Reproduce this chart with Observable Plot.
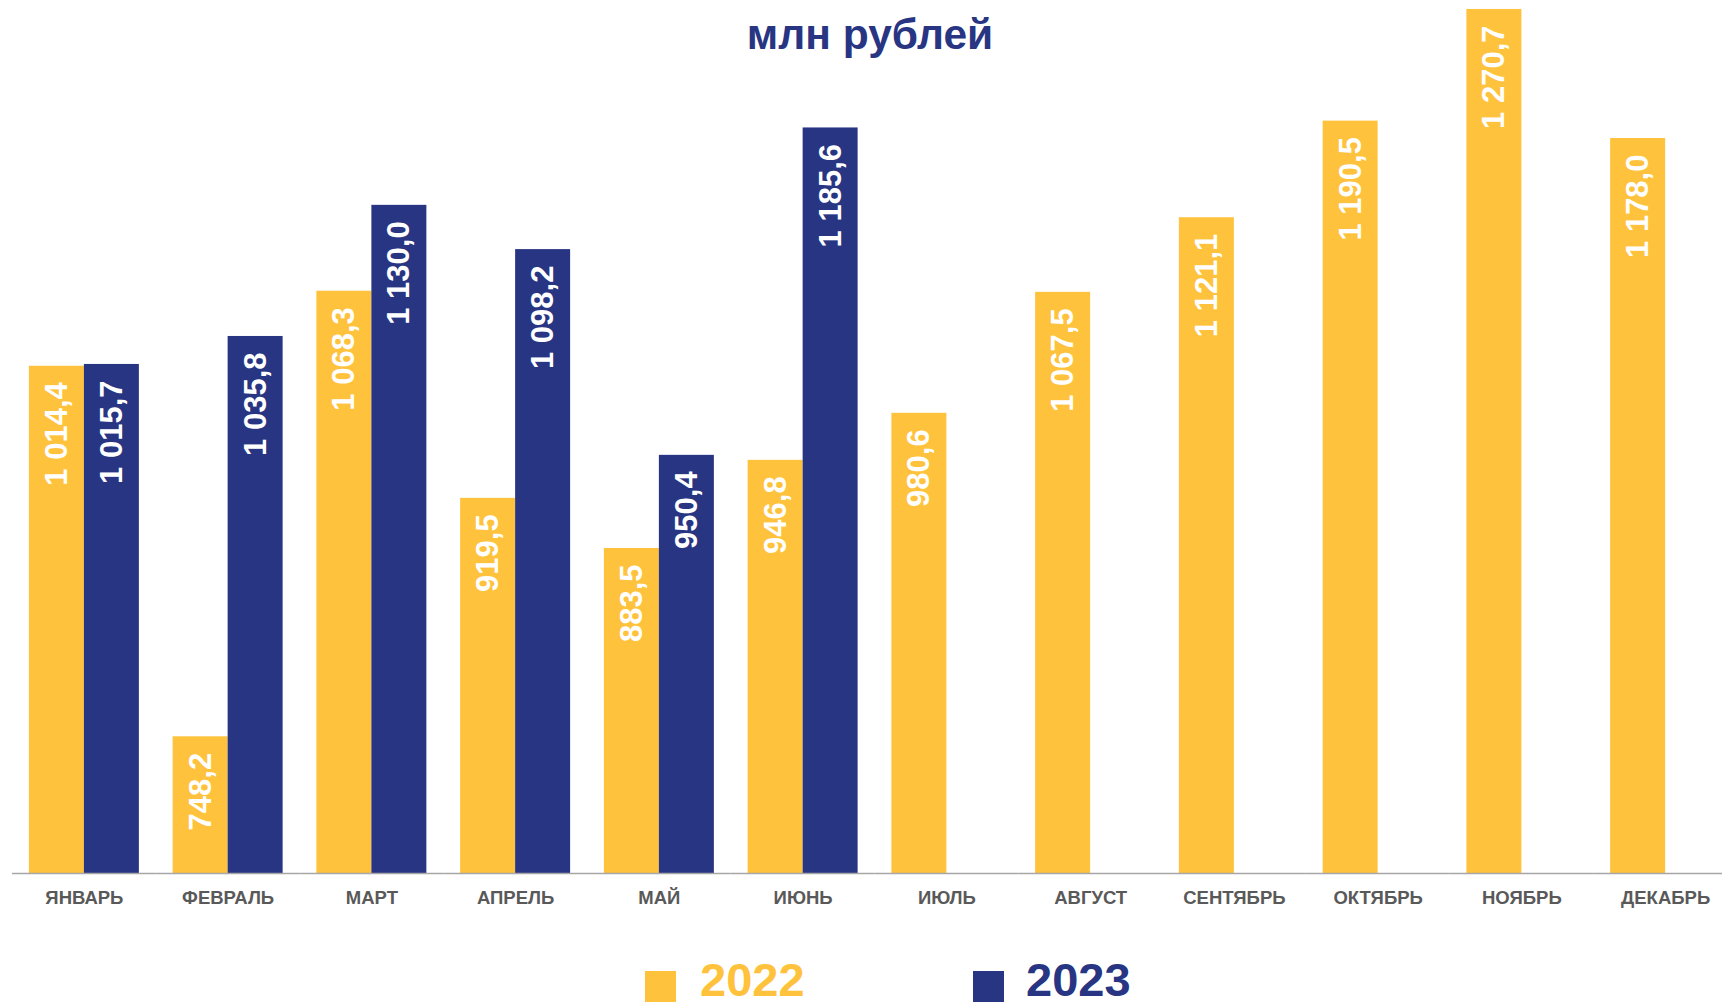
<!DOCTYPE html>
<html><head><meta charset="utf-8">
<script src="https://cdn.jsdelivr.net/npm/d3@7"></script>
<script src="https://cdn.jsdelivr.net/npm/@observablehq/plot@0.6"></script>
<style>
html,body{margin:0;padding:0;background:#fff;overflow:hidden;}
#wrap{position:relative;width:1722px;height:1006px;overflow:hidden;font-family:"Liberation Sans",Arial,sans-serif;}
#chart{position:absolute;left:0;top:0;}
#chart svg{max-width:none;}
#title{position:absolute;left:0;width:1740px;top:14px;text-align:center;font-size:42.5px;line-height:42px;font-weight:bold;color:#283582;}
.sw{position:absolute;width:31px;height:31px;top:971px;}
.lt{position:absolute;top:962px;font-size:47px;line-height:36px;font-weight:bold;white-space:nowrap;}
</style>
</head><body>
<div id="wrap">
  <div id="chart"></div>
  <div id="title">млн рублей</div>
  <div class="sw" style="left:645px;background:#FFC23D"></div>
  <div class="lt" style="left:700px;color:#FFC23D">2022</div>
  <div class="sw" style="left:973px;background:#283582"></div>
  <div class="lt" style="left:1026px;color:#283582">2023</div>
</div>
<script>
const months = ["ЯНВАРЬ","ФЕВРАЛЬ","МАРТ","АПРЕЛЬ","МАЙ","ИЮНЬ","ИЮЛЬ","АВГУСТ","СЕНТЯБРЬ","ОКТЯБРЬ","НОЯБРЬ","ДЕКАБРЬ"];
const years = ["2022","2023"];
const values2022 = [1014.4, 748.2, 1068.3, 919.5, 883.5, 946.8, 980.6, 1067.5, 1121.1, 1190.5, 1270.7, 1178.0];
const values2023 = [1015.7, 1035.8, 1130.0, 1098.2, 950.4, 1185.6];
const colors = ["#FFC23D", "#283582"];
const yMin = 650;
const yMax = 1275;

const data = [
  ...values2022.map((v, i) => ({month: months[i], year: "2022", value: v})),
  ...values2023.map((v, i) => ({month: months[i], year: "2023", value: v}))
];

const locale = d3.formatLocale({decimal: ",", thousands: " ", grouping: [3], currency: ["", ""]});
const fmt = locale.format(",.1f");

const chart = Plot.plot({
  width: 1737,
  height: 920,
  marginLeft: 12,
  marginRight: 0,
  marginTop: 3,
  marginBottom: 47,
  style: {fontFamily: "'Liberation Sans', Arial, sans-serif", background: "transparent"},
  fx: {domain: months, padding: 0, round: false, label: null, axis: "bottom", tickSize: 0, tickPadding: 17},
  x: {domain: years, paddingInner: 0, paddingOuter: 0.307, round: false, axis: null},
  y: {domain: [yMin, yMax], clamp: true, axis: null},
  color: {domain: years, range: colors},
  marks: [
    Plot.barY(data, {fx: "month", x: "year", y1: yMin, y2: "value", fill: "year"}),
    Plot.text(data, {fx: "month", x: "year", y: "value", text: d => fmt(d.value), rotate: -90, textAnchor: "end", lineAnchor: "middle", dy: 16, fill: "white", fontSize: 31, fontWeight: "bold"}),
    Plot.ruleY([yMin], {stroke: "#A6A6A6", strokeWidth: 1.5})
  ]
});
chart.querySelectorAll("g[aria-label='fx-axis tick label'] text, g[aria-label='fx-axis tick label']").forEach(e => {
  e.setAttribute("font-size", "18.5");
  e.setAttribute("font-weight", "bold");
  e.setAttribute("fill", "#595959");
});
document.getElementById("chart").appendChild(chart);
</script>
</body></html>
